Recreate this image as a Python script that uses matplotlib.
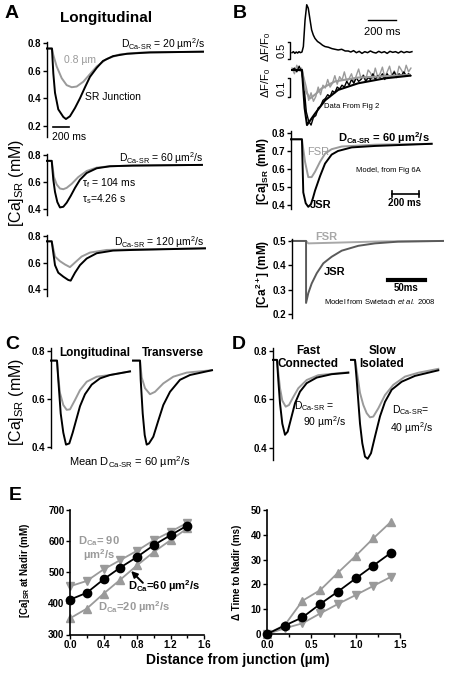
import numpy as np
import matplotlib
matplotlib.use('Agg')
import matplotlib.pyplot as plt

plt.rcParams['font.family'] = ['Liberation Sans', 'DejaVu Sans']
plt.rcParams['mathtext.fontset'] = 'custom'
plt.rcParams['mathtext.rm'] = 'Liberation Sans'
plt.rcParams['mathtext.it'] = 'Liberation Sans:italic'
plt.rcParams['mathtext.bf'] = 'Liberation Sans:bold'

W, H = 449, 673
GRAY = '#9a9a9a'

# ---- panel A : [Ca]SR transients (time in ms) ----
a1_black_t = [0, 62, 79, 100, 141, 204, 237, 287, 350, 412, 475, 537, 621, 700, 825, 1000, 1287, 1950]
a1_black_y = [0.76, 0.76, 0.58, 0.44, 0.32, 0.265, 0.25, 0.27, 0.33, 0.40, 0.48, 0.555, 0.62, 0.67, 0.705, 0.722, 0.732, 0.737]
a1_gray_t = [0, 62, 79, 121, 184, 246, 309, 371, 454, 537, 621, 746, 912, 1162, 1950]
a1_gray_y = [0.76, 0.76, 0.713, 0.63, 0.545, 0.495, 0.48, 0.485, 0.52, 0.575, 0.63, 0.685, 0.718, 0.73, 0.737]

a2_black_t = [0, 59, 79, 100, 129, 162, 204, 246, 296, 350, 412, 496, 621, 787, 1075, 1937]
a2_black_y = [0.76, 0.76, 0.62, 0.53, 0.455, 0.415, 0.42, 0.45, 0.50, 0.56, 0.62, 0.67, 0.705, 0.72, 0.725, 0.73]
a2_gray_t = [0, 59, 87, 121, 162, 204, 246, 309, 391, 496, 621, 787, 1075, 1937]
a2_gray_y = [0.76, 0.76, 0.64, 0.585, 0.555, 0.55, 0.56, 0.59, 0.64, 0.685, 0.71, 0.72, 0.725, 0.73]

a3_black_t = [0, 59, 100, 141, 204, 266, 296, 350, 412, 496, 621, 825, 1075, 1975]
a3_black_y = [0.76, 0.76, 0.58, 0.523, 0.493, 0.468, 0.463, 0.523, 0.58, 0.63, 0.67, 0.69, 0.695, 0.707]
a3_gray_t = [0, 59, 100, 162, 225, 287, 350, 433, 537, 746, 1975]
a3_gray_y = [0.76, 0.76, 0.645, 0.61, 0.585, 0.565, 0.60, 0.645, 0.675, 0.695, 0.707]

# ---- panel B : data (dF/F0) and models ----
b1_t = [0, 10, 20, 30, 40, 50, 60, 71, 81, 93, 105, 116, 129, 140, 152, 164, 182, 200, 218, 236,
        260, 285, 307, 330, 355, 380, 402, 420, 440, 460, 480, 500, 520, 540, 560, 580, 600, 620,
        640, 660, 680, 700, 720, 740, 760, 780, 800, 820, 840, 857]
b1_v = [0, 0.03, -0.02, 0.02, -0.01, 0.03, 0.0, 0.02, 0.18, 0.96, 1.41, 1.31, 0.96, 0.67, 0.52,
        0.42, 0.33, 0.28, 0.22, 0.18, 0.16, 0.12, 0.1, 0.08, 0.1, 0.05, 0.05, 0.02, 0.06, 0.0, 0.04,
        -0.02, 0.03, 0.0, 0.05, 0.01, -0.01, 0.04, 0.0, 0.03, -0.02, 0.04, 0.01, 0.03, -0.01, 0.04,
        0.0, 0.03, 0.01, 0.03]

b2_gray_data = [0.01, -0.02, 0.025, -0.005, 0.01, -0.04, -0.09, -0.16, -0.12, -0.165, -0.14,
                -0.09, -0.13, -0.08, -0.095, -0.05, -0.09, -0.07, -0.03, -0.075, -0.035, -0.055,
                -0.01, -0.06, -0.045, -0.02, -0.065, -0.03, 0.005, -0.045, -0.025, -0.05, 0.0,
                -0.015, -0.045, 0.01, -0.035, -0.02, 0.015, -0.04, -0.01, 0.02, -0.03, -0.005,
                -0.035, 0.02, 0.0, -0.025, 0.025, -0.01, 0.01]
b2_black_data = [0.0, 0.01, -0.01, 0.02, -0.01, -0.08, -0.22, -0.27, -0.29, -0.25, -0.24, -0.20,
                 -0.19, -0.16, -0.15, -0.13, -0.14, -0.11, -0.12, -0.09, -0.10, -0.08, -0.09,
                 -0.06, -0.08, -0.05, -0.07, -0.04, -0.06, -0.05, -0.03, -0.06, -0.04, -0.05,
                 -0.02, -0.05, -0.03, -0.04, -0.02, -0.05, -0.02, -0.04, -0.03, -0.01, -0.04,
                 -0.02, -0.03, -0.01, -0.03, -0.02, -0.03]
b2_black_fit_t = [0, 71, 90, 107, 116, 164, 236, 330, 473, 664, 843]
b2_black_fit_v = [0, 0, -0.2, -0.29, -0.28, -0.23, -0.16, -0.105, -0.07, -0.044, -0.03]
b2_gray_fit_t = [0, 71, 93, 129, 164, 212, 307, 473, 843]
b2_gray_fit_v = [0, 0, -0.105, -0.15, -0.13, -0.097, -0.06, -0.04, -0.026]

b3_jsr_t = [0, 81, 91, 109, 128, 148, 163, 178, 215, 252, 301, 348, 450, 622, 1042]
b3_jsr_y = [0.765, 0.765, 0.47, 0.41, 0.39, 0.405, 0.44, 0.48, 0.56, 0.63, 0.68, 0.70, 0.72, 0.728, 0.74]
b3_fsr_t = [0, 81, 104, 128, 153, 178, 215, 252, 301, 376, 622, 1042]
b3_fsr_y = [0.765, 0.765, 0.64, 0.555, 0.555, 0.585, 0.64, 0.685, 0.71, 0.725, 0.735, 0.74]

b4_jsr_t = [0, 19, 19, 22, 26.6, 33.4, 42.3, 53.6, 67.2, 89.6, 112, 143, 204]
b4_jsr_y = [0.5, 0.5, 0.245, 0.285, 0.325, 0.367, 0.408, 0.435, 0.46, 0.48, 0.49, 0.497, 0.5]
b4_fsr_t = [0, 19, 22, 60, 120, 204]
b4_fsr_y = [0.5, 0.5, 0.49, 0.493, 0.498, 0.5]

# ---- panel C ----
c_long_black_t = [0, 60, 73, 97, 123, 150, 183, 217, 250, 290, 340, 407, 490, 590, 790]
c_long_black_y = [0.76, 0.76, 0.68, 0.54, 0.46, 0.41, 0.415, 0.46, 0.51, 0.57, 0.62, 0.66, 0.686, 0.70, 0.715]
c_long_gray_t = [0, 60, 73, 90, 123, 157, 190, 240, 290, 357, 457, 590, 790]
c_long_gray_y = [0.76, 0.76, 0.69, 0.625, 0.575, 0.555, 0.557, 0.596, 0.637, 0.672, 0.693, 0.70, 0.715]
c_tran_black_t = [0, 70, 77, 97, 117, 137, 160, 203, 253, 303, 370, 470, 570, 790]
c_tran_black_y = [0.76, 0.76, 0.68, 0.54, 0.45, 0.41, 0.415, 0.443, 0.51, 0.575, 0.63, 0.68, 0.70, 0.72]
c_tran_gray_t = [0, 70, 87, 120, 170, 220, 303, 403, 537, 790]
c_tran_gray_y = [0.76, 0.76, 0.69, 0.645, 0.62, 0.63, 0.665, 0.693, 0.71, 0.72]

# ---- panel D ----
d_fast_black_t = [0, 40, 53, 70, 93, 120, 147, 177, 220, 270, 337, 437, 587, 753]
d_fast_black_y = [0.763, 0.763, 0.68, 0.584, 0.50, 0.454, 0.467, 0.515, 0.584, 0.632, 0.667, 0.69, 0.704, 0.71]
d_fast_gray_t = [0, 40, 53, 70, 93, 127, 160, 203, 253, 337, 453, 753]
d_fast_gray_y = [0.763, 0.763, 0.71, 0.647, 0.595, 0.57, 0.577, 0.61, 0.646, 0.68, 0.70, 0.712]
d_slow_black_t = [0, 40, 57, 90, 113, 140, 167, 200, 240, 290, 340, 407, 507, 640, 873]
d_slow_black_y = [0.763, 0.763, 0.68, 0.50, 0.419, 0.364, 0.355, 0.378, 0.447, 0.53, 0.59, 0.64, 0.673, 0.697, 0.72]
d_slow_gray_t = [0, 40, 57, 90, 123, 157, 190, 223, 273, 340, 423, 540, 673, 873]
d_slow_gray_y = [0.763, 0.763, 0.72, 0.627, 0.577, 0.543, 0.526, 0.529, 0.563, 0.618, 0.66, 0.694, 0.71, 0.726]

# ---- panel E ----
distance = [0, 0.2, 0.4, 0.6, 0.8, 1.0, 1.2, 1.4]
nadir_d60 = [412, 434, 477, 515, 549, 587, 619, 650]
nadir_d90 = [455, 472, 509, 539, 569, 603, 630, 659]
nadir_d20 = [352, 383, 431, 476, 522, 565, 603, 641]
dtime_d20 = [0, 3.6, 13.4, 17.7, 24.7, 31.5, 38.6, 45.3]
dtime_d60 = [0, 3.4, 6.7, 12.1, 17.1, 22.4, 27.6, 32.8]
dtime_d90 = [0, 2.3, 4.3, 8.3, 12.1, 15.7, 19.4, 23.1]


fig = plt.figure(figsize=(W / 100, H / 100), dpi=100)


def px_axes(x0, y0, x1, y1):
    return fig.add_axes([x0 / W, 1 - y1 / H, (x1 - x0) / W, (y1 - y0) / H])


def put(x, y, s, **kw):
    kw.setdefault('ha', 'center')
    kw.setdefault('va', 'center')
    fig.text(x / W, 1 - y / H, s, **kw)


def trace_axes(ax, xlim, ylim, yticks):
    ax.set_xlim(xlim)
    ax.set_ylim(ylim)
    for s in ['top', 'right', 'bottom']:
        ax.spines[s].set_visible(False)
    ax.spines['left'].set_linewidth(1)
    ax.set_xticks([])
    ax.set_yticks(yticks)
    ax.set_yticklabels(['%.1f' % v for v in yticks], fontweight='bold', fontsize=7)
    ax.tick_params(axis='y', length=3, width=1, pad=1)
    ax.patch.set_alpha(0)


def curve(ax, t, y, color, off=0, lw=1.4):
    ax.plot(np.array(t) + off, y, color=color, lw=lw, clip_on=False, solid_joinstyle='round')


def dsr(val):
    return 'D$\\mathregular{_{Ca\u2010SR}}$ = %s \u00b5m$\\mathregular{^2}$/s' % val


# ---------------- A ----------------
put(12, 14, 'A', fontsize=14, fontweight='bold')
put(106, 18, 'Longitudinal', fontsize=11, fontweight='bold')

ax = px_axes(47, 41.6, 205, 137)
trace_axes(ax, (0, 1975), (0.12, 0.81), [0.8, 0.6, 0.4, 0.2])
curve(ax, a1_gray_t, a1_gray_y, GRAY)
curve(ax, a1_black_t, a1_black_y, 'k')
ax.plot([75, 275], [0.193, 0.193], color='k', lw=1.2, clip_on=False)
put(206, 44, dsr('20'), fontsize=7.5, ha='right')
put(64, 60, '0.8 \u00b5m', fontsize=7.5, ha='left', color=GRAY)
put(85, 97, 'SR Junction', fontsize=7.5, ha='left')
put(52, 137, '200 ms', fontsize=7.5, ha='left')

ax = px_axes(47, 154.1, 205, 215)
trace_axes(ax, (0, 1975), (0.359, 0.81), [0.8, 0.6, 0.4])
curve(ax, a2_gray_t, a2_gray_y, GRAY)
curve(ax, a2_black_t, a2_black_y, 'k')
put(204, 158, dsr('60'), fontsize=7.5, ha='right')
put(82, 183, '\u03c4$\\mathregular{_f}$ = 104 ms', fontsize=7.5, ha='left')
put(82, 199, '\u03c4$\\mathregular{_s}$=4.26 s', fontsize=7.5, ha='left')

ax = px_axes(47, 234.7, 205, 296)
trace_axes(ax, (0, 1975), (0.347, 0.81), [0.8, 0.6, 0.4])
curve(ax, a3_gray_t, a3_gray_y, GRAY)
curve(ax, a3_black_t, a3_black_y, 'k')
put(204, 242, dsr('120'), fontsize=7.5, ha='right')

put(17, 183, '[Ca]$\\mathregular{_{SR}}$ (mM)', fontsize=11.5, rotation=90)

# ---------------- B ----------------
put(240, 14, 'B', fontsize=14, fontweight='bold')

ax = px_axes(280, 0, 415, 62)
ax.axis('off')
ax.set_xlim(-86, 879)
ax.set_ylim(-0.274, 1.55)
ax.plot(b1_t, b1_v, color='k', lw=1.1)
ax.plot([-32, -11, -11, -32], [0.31, 0.31, -0.19, -0.19], color='k', lw=1)
ax.plot([543, 743], [0.96, 0.96], color='k', lw=1)
put(382, 32, '200 ms', fontsize=8)
put(266, 47, '\u0394F/F$\\mathregular{_0}$', fontsize=8, rotation=90)
put(282, 50, '0.5', fontsize=8, rotation=90)

ax = px_axes(280, 62, 415, 130)
ax.axis('off')
ax.set_xlim(-86, 879)
ax.set_ylim(-0.316, 0.042)
ax.plot(np.linspace(0, 850, len(b2_gray_data)), b2_gray_data, color=GRAY, lw=1)
ax.plot(np.linspace(0, 850, len(b2_black_data)), b2_black_data, color='k', lw=1)
ax.plot(b2_gray_fit_t, b2_gray_fit_v, color=GRAY, lw=1.5)
ax.plot(b2_black_fit_t, b2_black_fit_v, color='k', lw=1.5)
ax.plot([-32, -11, -11, -32], [-0.042, -0.042, -0.142, -0.142], color='k', lw=1)
put(266, 83, '\u0394F/F$\\mathregular{_0}$', fontsize=8, rotation=90)
put(282, 88, '0.1', fontsize=8, rotation=90)
put(352, 107, 'Data From Fig 2', fontsize=5.5)

ax = px_axes(291, 131, 433, 209)
trace_axes(ax, (0, 1052), (0.378, 0.811), [0.8, 0.7, 0.6, 0.5, 0.4])
curve(ax, b3_fsr_t, b3_fsr_y, GRAY)
curve(ax, b3_jsr_t, b3_jsr_y, 'k')
ax.plot([748, 948], [0.461, 0.461], color='k', lw=1.2, clip_on=False)
ax.plot([748, 748], [0.444, 0.478], color='k', lw=1.2, clip_on=False)
ax.plot([948, 948], [0.444, 0.478], color='k', lw=1.2, clip_on=False)
put(430, 138, dsr('60'), fontsize=8, ha='right', fontweight='bold')
put(307, 152, 'FSR', fontsize=8, ha='left', color=GRAY)
put(388, 170, 'Model, from Fig 6A', fontsize=5.5)
put(310, 205, 'JSR', fontsize=8, ha='left', fontweight='bold')
put(405, 203, '200 ms', fontsize=7, fontweight='bold')
put(263, 171, '[Ca]$\\mathregular{_{SR}}$ (mM)', fontsize=8.5, fontweight='bold', rotation=90)

ax = px_axes(292, 239, 443, 318)
trace_axes(ax, (0, 204), (0.183, 0.508), [0.5, 0.4, 0.3, 0.2])
curve(ax, b4_fsr_t, b4_fsr_y, '#a8a8a8')
curve(ax, b4_jsr_t, b4_jsr_y, '#5a5a5a')
ax.plot([130, 180], [0.34, 0.34], color='k', lw=3)
put(315, 237, 'FSR', fontsize=8, ha='left', color='#a8a8a8', fontweight='bold')
put(324, 272, 'JSR', fontsize=8, ha='left', fontweight='bold')
put(406, 288, '50ms', fontsize=7, fontweight='bold')
put(380, 302, 'Model from Swietach $\\it{et\\ al.}$ 2008', fontsize=5.5)
put(263, 274, '[Ca$\\mathregular{^{2+}}$] (mM)', fontsize=8.5, fontweight='bold', rotation=90)

# ---------------- C ----------------
put(12, 345, 'C', fontsize=14, fontweight='bold')
ax = px_axes(51, 348, 215, 448)
trace_axes(ax, (0, 1640), (0.396, 0.8125), [0.8, 0.6, 0.4])
curve(ax, c_long_gray_t, c_long_gray_y, GRAY)
curve(ax, c_long_black_t, c_long_black_y, 'k')
curve(ax, c_tran_gray_t, c_tran_gray_y, GRAY, off=820)
curve(ax, c_tran_black_t, c_tran_black_y, 'k', off=820)
put(95, 353, 'Longitudinal', fontsize=8.5, fontweight='bold')
put(173, 353, 'Transverse', fontsize=8.5, fontweight='bold')
put(130, 462, 'Mean ' + dsr('60'), fontsize=8)
put(17, 402, '[Ca]$\\mathregular{_{SR}}$ (mM)', fontsize=11.5, rotation=90)

# ---------------- D ----------------
put(239, 345, 'D', fontsize=14, fontweight='bold')
ax = px_axes(273, 348, 440, 460)
trace_axes(ax, (0, 1670), (0.35, 0.812), [0.8, 0.6, 0.4])
curve(ax, d_fast_gray_t, d_fast_gray_y, GRAY)
curve(ax, d_fast_black_t, d_fast_black_y, 'k')
curve(ax, d_slow_gray_t, d_slow_gray_y, GRAY, off=780)
curve(ax, d_slow_black_t, d_slow_black_y, 'k', off=780)
put(308, 351, 'Fast', fontsize=8.5, fontweight='bold')
put(308, 364, 'Connected', fontsize=8.5, fontweight='bold')
put(382, 351, 'Slow', fontsize=8.5, fontweight='bold')
put(382, 364, 'Isolated', fontsize=8.5, fontweight='bold')
put(294, 406, 'D$\\mathregular{_{Ca\u2010SR}}$ =', fontsize=7.5, ha='left')
put(303, 422, '90 \u00b5m$\\mathregular{^2}$/s', fontsize=7.5, ha='left')
put(392, 410, 'D$\\mathregular{_{Ca\u2010SR}}$=', fontsize=7.5, ha='left')
put(390, 428, '40 \u00b5m$\\mathregular{^2}$/s', fontsize=7.5, ha='left')

# ---------------- E ----------------
put(15, 495, 'E', fontsize=14, fontweight='bold')


def e_axes(ax):
    for s in ['top', 'right']:
        ax.spines[s].set_visible(False)
    for s in ['left', 'bottom']:
        ax.spines[s].set_linewidth(1.2)
    ax.tick_params(length=3, width=1, pad=1, labelsize=7)
    ax.tick_params(which='minor', length=2, width=1)
    for lab in ax.get_xticklabels() + ax.get_yticklabels():
        lab.set_fontweight('bold')
    ax.patch.set_alpha(0)


ax = px_axes(70, 510, 204, 634.5)
ax.plot(distance, nadir_d90, color=GRAY, lw=1.3, marker='v', ms=6, clip_on=False)
ax.plot(distance, nadir_d20, color=GRAY, lw=1.3, marker='^', ms=6, clip_on=False)
ax.plot(distance, nadir_d60, color='k', lw=1.3, marker='o', ms=6, clip_on=False)
ax.set_xlim(0, 1.6)
ax.set_ylim(300, 700)
ax.set_xticks([0, 0.4, 0.8, 1.2, 1.6])
ax.set_xticks([0.2, 0.6, 1.0, 1.4], minor=True)
ax.set_yticks([300, 400, 500, 600, 700])
ax.set_xticklabels(['0.0', '0.4', '0.8', '1.2', '1.6'])
e_axes(ax)
ax.annotate('', xy=(0.73, 504), xytext=(0.87, 466),
            arrowprops=dict(arrowstyle='-|>', color='k', lw=1.4, mutation_scale=9,
                            shrinkA=0, shrinkB=0))
put(78, 541, 'D$\\mathregular{_{Ca}}$= 90', fontsize=8, ha='left', color=GRAY, fontweight='bold')
put(83, 555, '\u00b5m$\\mathregular{^2}$/s', fontsize=8, ha='left', color=GRAY, fontweight='bold')
put(128, 586, 'D$\\mathregular{_{Ca}}$=60 \u00b5m$\\mathregular{^2}$/s', fontsize=8, ha='left', fontweight='bold')
put(98, 607, 'D$\\mathregular{_{Ca}}$=20 \u00b5m$\\mathregular{^2}$/s', fontsize=8, ha='left', color=GRAY, fontweight='bold')
put(25, 570, '[Ca]$\\mathregular{_{SR}}$ at Nadir (mM)', fontsize=7, fontweight='bold', rotation=90)

ax = px_axes(267, 510, 400, 634)
ax.plot(distance, dtime_d20, color=GRAY, lw=1.3, marker='^', ms=6, clip_on=False)
ax.plot(distance, dtime_d90, color=GRAY, lw=1.3, marker='v', ms=6, clip_on=False)
ax.plot(distance, dtime_d60, color='k', lw=1.3, marker='o', ms=6, clip_on=False)
ax.set_xlim(0, 1.5)
ax.set_ylim(0, 50)
ax.set_xticks([0, 0.5, 1.0, 1.5])
ax.set_xticks([0.25, 0.75, 1.25], minor=True)
ax.set_xticklabels(['0.0', '0.5', '1.0', '1.5'])
ax.set_yticks([0, 10, 20, 30, 40, 50])
e_axes(ax)
put(237, 572, '\u0394 Time to Nadir (ms)', fontsize=7, fontweight='bold', rotation=90)

put(238, 660, 'Distance from junction (\u00b5m)', fontsize=10, fontweight='bold')

fig.savefig('out.png', dpi=100)
